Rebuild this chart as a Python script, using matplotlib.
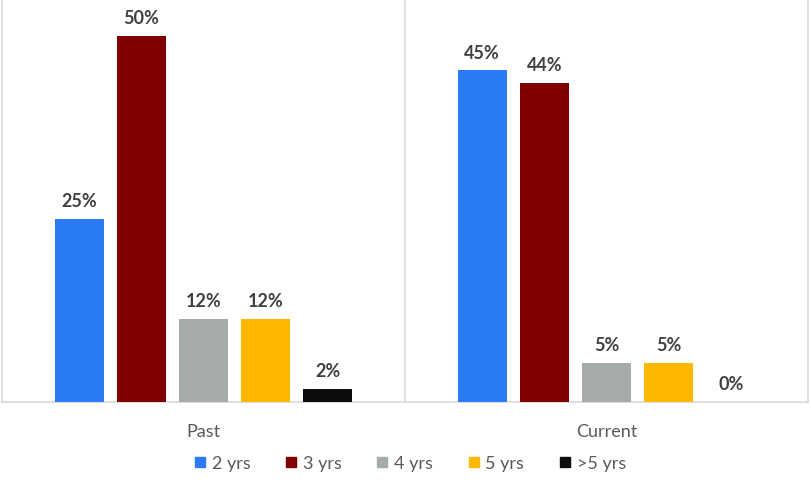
import matplotlib.pyplot as plt
from matplotlib.lines import Line2D
import numpy as np

plt.rcParams['font.family'] = ['Lato', 'DejaVu Sans']

#-------------------------------------------------------------------------------
# data
groups = ['Past', 'Current']
series = ['2 yrs', '3 yrs', '4 yrs', '5 yrs', '>5 yrs']
colors = ['#2B7BF7', '#800000', '#A5ABAA', '#FFB800', '#0D0D0D']
past = [25, 50, 11.4, 11.4, 1.8]
current = [45.3, 43.6, 5.3, 5.3, 0]
past_labels = ['25%', '50%', '12%', '12%', '2%']
current_labels = ['45%', '44%', '5%', '5%', '0%']

#-------------------------------------------------------------------------------
fig = plt.figure(figsize=(8.12, 4.85), dpi=100)
ax = fig.add_axes([2/812, 82/485, 806/812, 403/485])

width = 0.1216
step = 0.1544
x = np.arange(len(groups))
values = np.array([past, current])
labels = [past_labels, current_labels]

for i in range(len(series)):
    xs = x + (i - 2) * step
    ax.bar(xs, values[:, i], width, color=colors[i], zorder=3)
    for g in range(len(groups)):
        ax.annotate(labels[g][i], (xs[g], values[g, i]), xytext=(0, 7),
                    textcoords='offset points', ha='center', va='bottom',
                    fontsize=13, fontweight='bold', color='#404040')

ax.set_xlim(-0.5, 1.5)
ax.set_ylim(0, 55.05)
ax.set_yticks([])
ax.set_xticks(x)
ax.set_xticklabels(groups, fontsize=13, color='#595959')
ax.tick_params(axis='x', length=0, pad=15)
ax.axvline(0.5, color='#D9D9D9', lw=1.2, zorder=1)
for s in ['left', 'right', 'bottom']:
    ax.spines[s].set_color('#D9D9D9')
    ax.spines[s].set_linewidth(1.2)
ax.spines['top'].set_visible(False)

handles = [Line2D([], [], marker='s', linestyle='', color=c, markersize=7.5)
           for c in colors]
fig.legend(handles, series, loc='center', bbox_to_anchor=(0.503, 0.043),
           ncol=5, frameon=False, fontsize=13, handletextpad=0.15,
           columnspacing=1.75, labelcolor='#595959', handlelength=1.0)

fig.savefig('out.png', dpi=100)
